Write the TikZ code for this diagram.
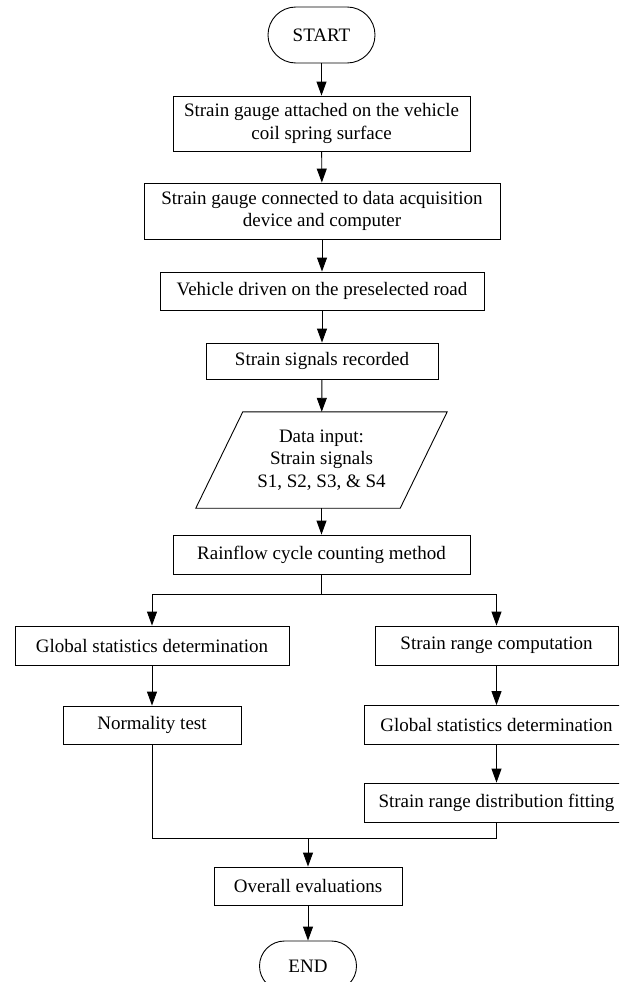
\documentclass[tikz,border=0pt]{standalone}
\usepackage{fontspec}
\setmainfont{Liberation Serif}
\usetikzlibrary{arrows.meta}
\begin{document}
\begin{tikzpicture}[x=1pt,y=-1pt,
  every node/.style={font=\fontsize{19}{22.5}\selectfont, align=center, inner sep=0pt},
  box/.style={draw, line width=0.9pt, rectangle},
  term/.style={draw, line width=0.9pt, rectangle, rounded corners=27.9pt},
  ln/.style={line width=0.9pt},
  arr/.style={line width=0.9pt, -{Triangle[length=14pt,width=10pt]}}]
\useasboundingbox (0,0) rectangle (619,982);
\begin{scope}
\clip (0,0) rectangle (619,982);
\node[term, minimum width=107, minimum height=56] (start) at (321.5,35) {START};
\node[box, minimum width=297, minimum height=55] (b1) at (321.5,123.5) {Strain gauge attached on the vehicle\\coil spring surface};
\node[box, minimum width=356, minimum height=56] (b2) at (322,211) {Strain gauge connected to data acquisition\\device and computer};
\node[box, minimum width=324, minimum height=38] (b3) at (322,291) {Vehicle driven on the preselected road};
\node[box, minimum width=232, minimum height=36] (b4) at (322,361) {Strain signals recorded};
\node[minimum width=251, minimum height=96] (data) at (321.5,460) {Data input:\\Strain signals\\S1, S2, S3, \& S4};
\draw[ln] ([xshift=47pt]data.north west) -- (data.north east) -- ([xshift=-47pt]data.south east) -- (data.south west) -- cycle;
\node[box, minimum width=297, minimum height=39] (rain) at (321.5,554.5) {Rainflow cycle counting method};
\node[box, minimum width=274, minimum height=39] (gl) at (152,645.5) {Global statistics determination};
\node[box, minimum width=243, minimum height=39] (src) at (496.5,645.5) {Strain range computation};
\node[box, minimum width=178, minimum height=38] (norm) at (152,725) {Normality test};
\node[box, minimum width=265, minimum height=39] (gr) at (496.5,725) {Global statistics determination};
\node[box, minimum width=265, minimum height=39] (fit) at (496.5,802.5) {Strain range distribution fitting};
\node[box, minimum width=188, minimum height=38] (over) at (308,886) {Overall evaluations};
\node[term, rounded corners=25pt, minimum width=97, minimum height=50] (end) at (308,966) {END};

\coordinate (split) at (321.5,594);
\coordinate (merge) at (308,838);

\draw[arr] (start) -- (b1);
\draw[arr] (b1) -- (b2);
\draw[arr] (b2) -- (b3);
\draw[arr] (b3) -- (b4);
\draw[arr] (b4) -- (data);
\draw[arr] (data) -- (rain);
\draw[ln] (rain.south) -- (split);
\draw[arr] (split) -| (gl.north);
\draw[arr] (split) -| (src.north);
\draw[arr] (gl) -- (norm);
\draw[arr] (src) -- (gr);
\draw[arr] (gr) -- (fit);
\draw[ln] (norm.south) |- (merge) -| (fit.south);
\draw[arr] (merge) -- (over.north);
\draw[arr] (over) -- (end);
\end{scope}
\end{tikzpicture}
\end{document}
